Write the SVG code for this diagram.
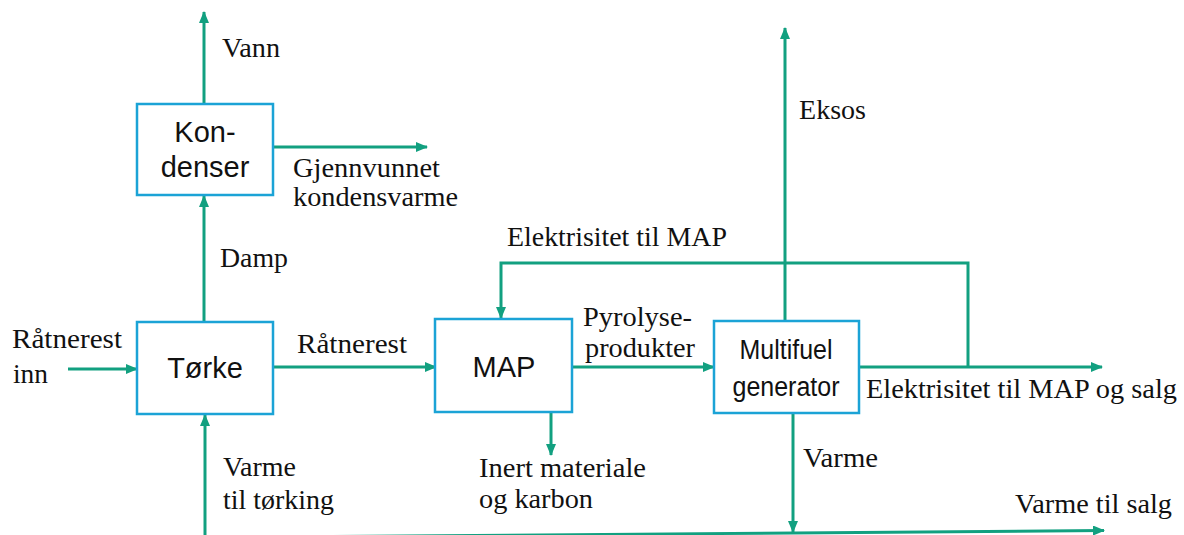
<svg xmlns="http://www.w3.org/2000/svg" width="1184" height="535" viewBox="0 0 1184 535">
<style>
.box{fill:#fff;stroke:#1ba3d6;stroke-width:2.5}
.ln{fill:none;stroke:#12a080;stroke-width:3}
.lbl{font-family:"Liberation Serif",serif;font-size:27px;fill:#111}
.nd{font-family:"Liberation Sans",Arial,sans-serif;font-size:29px;fill:#111;text-anchor:middle}
</style>
<defs>
<marker id="ah" viewBox="0 0 12 10" refX="11" refY="5" markerWidth="12" markerHeight="10" markerUnits="userSpaceOnUse" orient="auto">
<path d="M0,0 L12,5 L0,10 Z" fill="#12a080"/>
</marker>
</defs>
<rect width="1184" height="535" fill="#fff"/>
<g id="connectors">
<line class="ln" x1="204" y1="104" x2="204" y2="12" marker-end="url(#ah)"/>
<line class="ln" x1="273" y1="147" x2="427" y2="147" marker-end="url(#ah)"/>
<line class="ln" x1="204" y1="322" x2="204" y2="196" marker-end="url(#ah)"/>
<line class="ln" x1="68" y1="369" x2="137" y2="369" marker-end="url(#ah)"/>
<line class="ln" x1="273" y1="367" x2="436" y2="367" marker-end="url(#ah)"/>
<line class="ln" x1="205" y1="535" x2="205" y2="415" marker-end="url(#ah)"/>
<polyline class="ln" points="968,367 968,263 501,263 501,318" marker-end="url(#ah)"/>
<line class="ln" x1="572" y1="367" x2="714" y2="367" marker-end="url(#ah)"/>
<line class="ln" x1="551" y1="412" x2="551" y2="455" marker-end="url(#ah)"/>
<line class="ln" x1="785" y1="321" x2="785" y2="28" marker-end="url(#ah)"/>
<line class="ln" x1="859" y1="367" x2="1102" y2="367" marker-end="url(#ah)"/>
<line class="ln" x1="793" y1="413" x2="793" y2="532" marker-end="url(#ah)"/>
<line class="ln" x1="205" y1="537.5" x2="1104" y2="530.5" marker-end="url(#ah)"/>
</g>
<g id="kondenser">
<rect class="box" x="137" y="104" width="136" height="91"/>
<text class="nd" x="205" y="142">Kon-</text>
<text class="nd" x="205" y="177">denser</text>
</g>
<g id="torke">
<rect class="box" x="137" y="322" width="136" height="92"/>
<text class="nd" x="205" y="378">Tørke</text>
</g>
<g id="map">
<rect class="box" x="435" y="319" width="137" height="93"/>
<text class="nd" x="504" y="377">MAP</text>
</g>
<g id="multifuel">
<rect class="box" x="714" y="321" width="145" height="92"/>
<text class="nd" x="786" y="359" style="font-size:27px" textLength="93" lengthAdjust="spacingAndGlyphs">Multifuel</text>
<text class="nd" x="786" y="396" style="font-size:27px" textLength="107" lengthAdjust="spacingAndGlyphs">generator</text>
</g>
<g id="labels">
<text class="lbl" x="222" y="57" textLength="58" lengthAdjust="spacingAndGlyphs">Vann</text>
<text class="lbl" x="293" y="177" textLength="147" lengthAdjust="spacingAndGlyphs">Gjennvunnet</text>
<text class="lbl" x="293" y="206" textLength="165" lengthAdjust="spacingAndGlyphs">kondensvarme</text>
<text class="lbl" x="220" y="267" textLength="68" lengthAdjust="spacingAndGlyphs">Damp</text>
<text class="lbl" x="12" y="348" textLength="110" lengthAdjust="spacingAndGlyphs">Råtnerest</text>
<text class="lbl" x="13" y="383" textLength="35" lengthAdjust="spacingAndGlyphs">inn</text>
<text class="lbl" x="297" y="353" textLength="110" lengthAdjust="spacingAndGlyphs">Råtnerest</text>
<text class="lbl" x="223" y="476" textLength="73" lengthAdjust="spacingAndGlyphs">Varme</text>
<text class="lbl" x="223" y="509" textLength="111" lengthAdjust="spacingAndGlyphs">til tørking</text>
<text class="lbl" x="507" y="246" textLength="220" lengthAdjust="spacingAndGlyphs">Elektrisitet til MAP</text>
<text class="lbl" x="583" y="326" textLength="109" lengthAdjust="spacingAndGlyphs">Pyrolyse-</text>
<text class="lbl" x="585" y="357" textLength="110" lengthAdjust="spacingAndGlyphs">produkter</text>
<text class="lbl" x="479" y="477" textLength="167" lengthAdjust="spacingAndGlyphs">Inert materiale</text>
<text class="lbl" x="479" y="508" textLength="114" lengthAdjust="spacingAndGlyphs">og karbon</text>
<text class="lbl" x="799" y="119" textLength="67" lengthAdjust="spacingAndGlyphs">Eksos</text>
<text class="lbl" x="866" y="398" textLength="311" lengthAdjust="spacingAndGlyphs">Elektrisitet til MAP og salg</text>
<text class="lbl" x="803" y="467" textLength="75" lengthAdjust="spacingAndGlyphs">Varme</text>
<text class="lbl" x="1015" y="513" textLength="157" lengthAdjust="spacingAndGlyphs">Varme til salg</text>
</g>
</svg>
